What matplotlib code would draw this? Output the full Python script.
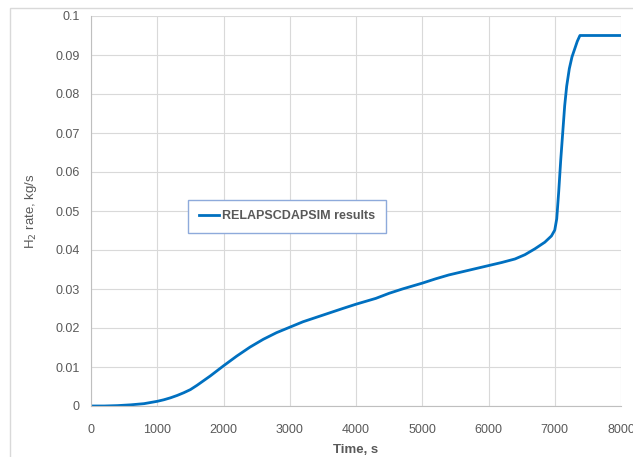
import matplotlib.pyplot as plt
from matplotlib.patches import Rectangle

plt.rcParams['font.family'] = ['Liberation Sans', 'DejaVu Sans']

# Wartosci
time = [0, 200, 400, 600, 800, 900, 1000, 1100, 1200, 1300, 1400, 1500, 1600,
        1700, 1800, 1900, 2000, 2200, 2400, 2600, 2800, 3000, 3200, 3500, 3800,
        4000, 4300, 4500, 4700, 5000, 5200, 5400, 5700, 6000, 6200, 6400, 6550,
        6700, 6850, 6950, 7000, 7030, 7060, 7090, 7120, 7150, 7180, 7220, 7260,
        7300, 7340, 7380, 7600, 8000]
rate = [0, 0, 0.0001, 0.0003, 0.0006, 0.0009, 0.0012, 0.0016, 0.0021, 0.0027,
        0.0034, 0.0042, 0.0053, 0.0065, 0.0077, 0.0090, 0.0103, 0.0128, 0.0151,
        0.0171, 0.0188, 0.0202, 0.0216, 0.0233, 0.0250, 0.0261, 0.0276, 0.0289,
        0.0300, 0.0315, 0.0326, 0.0336, 0.0348, 0.0360, 0.0368, 0.0377, 0.0388,
        0.0403, 0.0420, 0.0436, 0.0451, 0.0480, 0.0550, 0.0630, 0.0700, 0.0770,
        0.0820, 0.0865, 0.0895, 0.0915, 0.0935, 0.0950, 0.0950, 0.0950]

grey = "#595959"

fig = plt.figure(figsize=(6.33, 4.57), dpi=100)
fig.patches.append(Rectangle((10/633, -0.1), 1.2, 0.1 + 1 - 8/457, transform=fig.transFigure,
                             fill=False, edgecolor="#d9d9d9", linewidth=1))
ax = fig.add_axes([91/633, 1 - 406/457, 530/633, 390/457])

ax.plot(time, rate, color="#0070C0", linewidth=2, label="RELAPSCDAPSIM results")

ax.set_xlim(0, 8000)
ax.set_ylim(0, 0.1)
ax.set_xticks(range(0, 8001, 1000))
ax.set_yticks([i / 100 for i in range(0, 11)])
ax.set_yticklabels(["0"] + [f"{i/100:g}" for i in range(1, 11)])
ax.grid(True, color="#d9d9d9", linewidth=0.8)
ax.set_axisbelow(True)
for s in ["top", "right"]:
    ax.spines[s].set_visible(False)
for s in ["left", "bottom"]:
    ax.spines[s].set_color("#bfbfbf")
ax.tick_params(length=0, labelsize=9, colors=grey)
ax.tick_params(axis="y", pad=8)
ax.tick_params(axis="x", pad=13)

ax.set_xlabel("Time, s", fontsize=9.5, fontweight="bold", color=grey, labelpad=6)
ax.set_ylabel("H$_2$ rate, kg/s", fontsize=9.5, color=grey, labelpad=12)

leg = ax.legend(loc="center", bbox_to_anchor=(0.37, 0.486),
                prop={"weight": "bold", "size": 9}, handlelength=1.6,
                handletextpad=0.3, borderpad=0.85, borderaxespad=0,
                fancybox=False, framealpha=1)
leg.get_frame().set_edgecolor("#8eaadb")
leg.get_frame().set_linewidth(1)
for t in leg.get_texts():
    t.set_color(grey)

fig.savefig("out.png", dpi=100)
